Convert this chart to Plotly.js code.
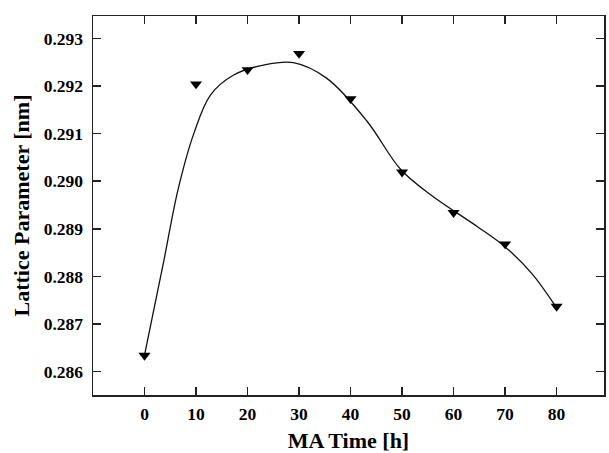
<!DOCTYPE html>
<html>
<head>
<meta charset="utf-8">
<script src="https://cdn.plot.ly/plotly-3.0.1.min.js"></script>
<style>html,body{margin:0;padding:0;background:#fff;}#chart{width:609px;height:453px;}</style>
</head>
<body>
<div id="chart"></div>
<script>
// Measured data points
const maTime = [0, 10, 20, 30, 40, 50, 60, 70, 80];
const latticeParam = [0.28634, 0.29204, 0.29234, 0.29268, 0.29173, 0.29019, 0.28934, 0.28868, 0.28737];

// Smoothed curve
const curveTime = [0, 3.7, 6.5, 9.6, 12.8, 17.3, 23.1, 28.9, 35.4, 43.2, 49.7, 55.6, 64.7, 70, 75.2, 80];
const curveValue = [0.28635, 0.28830, 0.28982, 0.29101, 0.29181, 0.29223, 0.29244, 0.29249, 0.29216, 0.29126, 0.29025, 0.28971, 0.28904, 0.28862, 0.28806, 0.28734];

const xTicks = [0, 10, 20, 30, 40, 50, 60, 70, 80];
const yTicks = [0.286, 0.287, 0.288, 0.289, 0.290, 0.291, 0.292, 0.293];

const font = "'Liberation Serif', 'Times New Roman', serif";

const traces = [
  {
    x: curveTime, y: curveValue, type: 'scatter', mode: 'lines',
    line: {color: '#111', width: 1.3, shape: 'spline', smoothing: 1},
    hoverinfo: 'skip', showlegend: false
  },
  {
    x: maTime, y: latticeParam, type: 'scatter', mode: 'markers',
    marker: {symbol: 'triangle-down', size: 10.5, color: '#000'},
    showlegend: false
  }
];

const axisCommon = {
  showline: true, linecolor: '#222', linewidth: 1.5, mirror: 'ticks',
  ticks: 'inside', ticklen: 8, tickwidth: 1.5, tickcolor: '#222',
  showgrid: false, zeroline: false,
  tickfont: {family: font, size: 17.5, color: '#000', weight: 'bold'}
};

const layout = {
  width: 609, height: 453,
  margin: {l: 93, r: 5, t: 16, b: 58},
  paper_bgcolor: '#fff', plot_bgcolor: '#fff',
  font: {family: font, color: '#000'},
  xaxis: Object.assign({}, axisCommon, {
    range: [-10, 89.2],
    tickvals: xTicks, ticktext: xTicks.map(String),
    ticklabelstandoff: 2,
    title: {text: '<b>MA Time [h]</b>', font: {family: font, size: 22, color: '#000'}, standoff: 18}
  }),
  yaxis: Object.assign({}, axisCommon, {
    range: [0.28551, 0.29347],
    tickvals: yTicks, ticktext: yTicks.map(v => v.toFixed(3)),
    ticklabelstandoff: 5,
    title: {text: '<b>Lattice Parameter [nm]</b>', font: {family: font, size: 22, color: '#000'}, standoff: 8}
  })
};

Plotly.newPlot('chart', traces, layout, {staticPlot: true, displayModeBar: false});
</script>
</body>
</html>
